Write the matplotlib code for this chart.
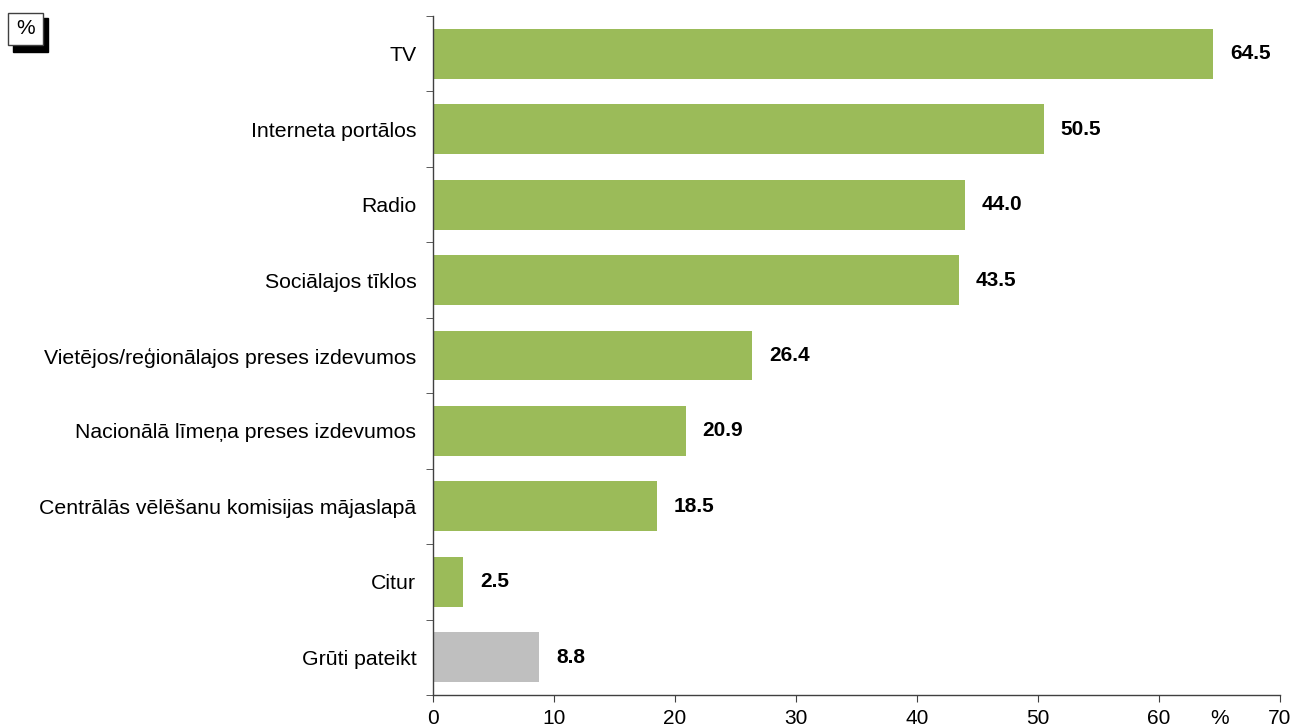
import matplotlib
matplotlib.use('Agg')
import matplotlib.pyplot as plt
from matplotlib.patches import Rectangle

plt.rcParams['font.family'] = ['Liberation Sans', 'DejaVu Sans']

categories = ['TV', 'Interneta portālos', 'Radio', 'Sociālajos tīklos',
              'Vietējos/reģionālajos preses izdevumos',
              'Nacionālā līmeņa preses izdevumos',
              'Centrālās vēlēšanu komisijas mājaslapā', 'Citur', 'Grūti pateikt']
values = [64.5, 50.5, 44.0, 43.5, 26.4, 20.9, 18.5, 2.5, 8.8]
colors = ['#9BBB59'] * 8 + ['#BFBFBF']
xticks = [0, 10, 20, 30, 40, 50, 60, 70]

fig = plt.figure(figsize=(12.93, 7.27), dpi=100)
ax = fig.add_axes([433 / 1293, 0.044, 847 / 1293, 0.934])

n = len(categories)
pos = list(range(n))
ax.barh(pos, values, height=0.66, color=colors, edgecolor='none')
ax.set_ylim(n - 0.5, -0.5)
ax.set_xlim(0, 70)

# category labels centred, ticks at category boundaries
ax.set_yticks(pos)
ax.set_yticklabels(categories, fontsize=15.3)
ax.tick_params(axis='y', length=0, pad=12)
ax.set_yticks([p - 0.5 for p in range(n + 1)], minor=True)
ax.tick_params(axis='y', which='minor', length=5, direction='out', color='#404040')

ax.set_xticks(xticks)
ax.set_xticklabels([str(t) for t in xticks], fontsize=15)
ax.tick_params(axis='x', length=5, direction='out', color='#404040', pad=5)
# '%' unit label placed among the x tick labels
ax.set_xticks([65], minor=True)
ax.set_xticklabels(['%'], minor=True, fontsize=15)
ax.tick_params(axis='x', which='minor', length=0, pad=10)

for s in ['top', 'right']:
    ax.spines[s].set_visible(False)
for s in ['left', 'bottom']:
    ax.spines[s].set_color('#404040')
    ax.spines[s].set_linewidth(1.0)

for p, v in zip(pos, values):
    ax.annotate(f'{v:.1f}', xy=(v, p), xytext=(12, 0), textcoords='offset points',
                va='center', ha='left', fontsize=15, fontweight='bold')

# boxed '%' with shadow in the top-left corner
W, H = 1293, 727
fig.patches.append(Rectangle((13 / W, 1 - 52 / H), 35 / W, 34 / H, transform=fig.transFigure,
                             facecolor='black', edgecolor='black', zorder=1))
fig.patches.append(Rectangle((8 / W, 1 - 45 / H), 35 / W, 32 / H, transform=fig.transFigure,
                             facecolor='white', edgecolor='#404040', linewidth=1, zorder=2))
fig.text(25.5 / W, 1 - 29 / H, '%', ha='center', va='center', fontsize=15, zorder=3)

fig.savefig('out.png', dpi=100)
